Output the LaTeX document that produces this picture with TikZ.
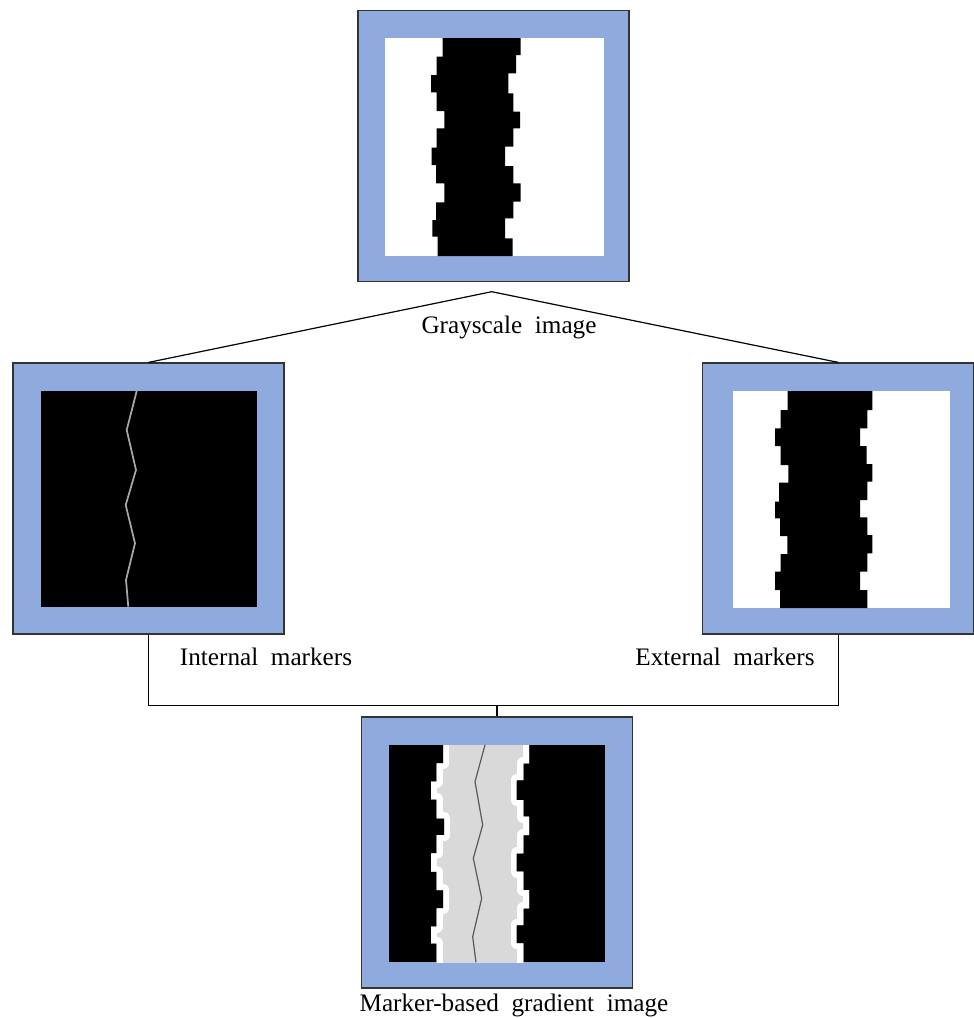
\documentclass[tikz,border=0pt]{standalone}
\usepackage{fontspec}
\setmainfont{Liberation Serif}
\usetikzlibrary{calc}
\definecolor{panelblue}{HTML}{8FAADC}
\definecolor{bandgrey}{HTML}{D9D9D9}
\definecolor{markergrey}{HTML}{A8A8A8}
\begin{document}
\begin{tikzpicture}[x=0.75pt,y=-0.75pt,
  panel/.style={draw=black!80, line width=0.9pt, fill=panelblue, minimum width=203.25pt, minimum height=203.25pt, inner sep=0pt},
  lbl/.style={anchor=base, inner sep=0pt, font=\fontsize{18.9}{22}\selectfont},
  conn/.style={draw=black, line width=0.9pt}]
\useasboundingbox (0,0) rectangle (974,1018);

% panels
\node[panel] (top) at (493.5,146) {};
\node[panel] (left) at (148.5,498.5) {};
\node[panel] (right) at (838.25,498.5) {};
\node[panel] (bottom) at (497,852.5) {};

% top image: grayscale
\fill[white] (385,38) rectangle (604,256);
\begin{scope}[shift={(385,38)}]
\fill[black] (57.7,0) |- (51.7,18.7) |- (46,37) |- (51.7,54.3) |- (59.3,73) |- (51.7,90.3) |- (46.7,109.7) |- (51,127) |- (59.3,145.3) |- (51,164.3) |- (47.3,182) |- (52.7,198.7) -- (52.7,218)
  -- (127.7,218) |- (120,200.3) |- (128.3,180.3) |- (135.7,163.7) |- (128.3,145.3) |- (120,128) |- (128.3,108.7) |- (135,90.3) |- (128.3,73.7) |- (123.3,55.3) |- (131,35.3) |- (135.7,17) -- (135.7,0) -- cycle;
\end{scope}

% left image: internal markers
\fill[black] (41,391) rectangle (257,607);
\draw[markergrey, line width=1.3pt, line join=round] (136.7,391) -- (126.7,430) -- (136,470) -- (125.7,505) -- (135,543.3) -- (126,580) -- (128.3,606.7);

% right image: external markers
\fill[white] (733,391) rectangle (950,608);
\begin{scope}[shift={(733,391)}]
\fill[black] (54.7,0) |- (47.7,19) |- (42,37.3) |- (47.7,55) |- (55.3,74) |- (46,91.7) |- (42,110.7) |- (47,127.3) |- (54.3,145) |- (47.7,163) |- (42,180.7) |- (47,199) -- (47,217)
  -- (134.3,217) |- (127,199) |- (134.3,180.7) |- (139.3,162.3) |- (134.3,144) |- (127,126.3) |- (134.3,109) |- (139.3,90.7) |- (133.7,73) |- (127,55) |- (134.3,37.3) |- (139.3,19) -- (139.3,0) -- cycle;
\end{scope}

% bottom image: marker-based gradient
\fill[black] (389,745) rectangle (605,962);
\begin{scope}
\clip (389,745) rectangle (605,962);
\begin{scope}[shift={(389,745)}]
\clip (54.3,-12) |- (47.7,18.3) |- (42,36.7) |- (47.7,54.3) |- (55.3,73.3) |- (47.7,90) |- (42,108.3) |- (47.7,126.7) |- (54.3,145) |- (47.7,163.3) |- (42,181.7) |- (47.7,198.3) -- (47.7,230)
  -- (134.3,230) |- (127.7,198.3) |- (134.3,180) |- (140,163.3) |- (134.3,145) |- (127.7,126.7) |- (134.3,108.3) |- (140,90) |- (134.3,71.7) |- (127.7,55) |- (134.3,35) |- (140,18.3) -- (140,-12) -- cycle;
\filldraw[fill=bandgrey, draw=white, line width=9pt, line join=round] (54.3,-12) |- (47.7,18.3) |- (42,36.7) |- (47.7,54.3) |- (55.3,73.3) |- (47.7,90) |- (42,108.3) |- (47.7,126.7) |- (54.3,145) |- (47.7,163.3) |- (42,181.7) |- (47.7,198.3) -- (47.7,230)
  -- (134.3,230) |- (127.7,198.3) |- (134.3,180) |- (140,163.3) |- (134.3,145) |- (127.7,126.7) |- (134.3,108.3) |- (140,90) |- (134.3,71.7) |- (127.7,55) |- (134.3,35) |- (140,18.3) -- (140,-12) -- cycle;
\end{scope}
\end{scope}
\draw[black!65, line width=0.9pt, line join=round] (485,745) -- (475,781.7) -- (482.7,825) -- (473.3,858.3) -- (481.7,898.3) -- (472.7,936.7) -- (476,962.3);

% connectors
\coordinate (apex) at (491.7,291.7);
\draw[conn] (left.north) -- (apex) -- (right.north);
\path (bottom.north) ++(0,-11) coordinate (junc);
\draw[conn] (left.south) |- (junc) -| (right.south);
\draw[conn] (junc) -- (bottom.north);

% labels
\node[lbl] (lgray) at (509,333) {Grayscale~~image};
\node[lbl] (lint) at (266,665) {Internal~~markers};
\node[lbl] (lext) at (725,665) {External~~markers};
\node[lbl] (lgrad) at (514,1011.5) {Marker-based~~gradient~~image};
\end{tikzpicture}
\end{document}
